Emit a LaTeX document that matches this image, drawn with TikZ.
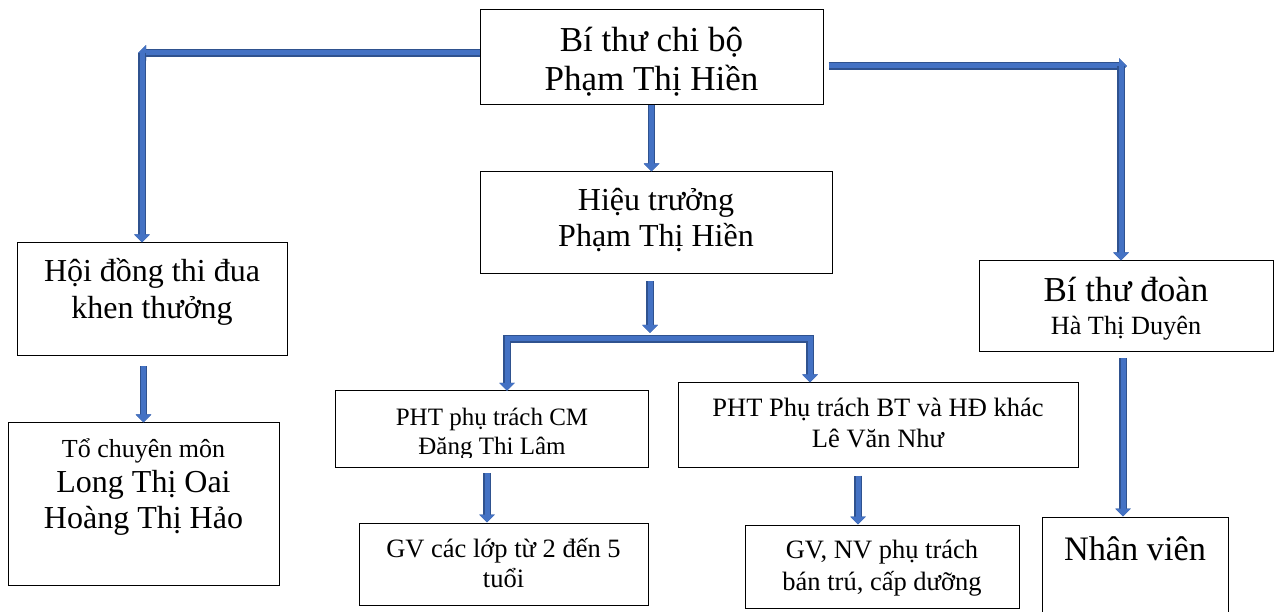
\documentclass[tikz,border=0pt]{standalone}
\usepackage{fontspec}
\setmainfont{Liberation Serif}
\usetikzlibrary{arrows.meta}
\definecolor{linkblue}{HTML}{4472C4}
\definecolor{linkedge}{HTML}{2F528F}
\newcommand{\sz}[2]{\fontsize{#1pt}{#2pt}\selectfont}
\newcommand{\first}{\rule{0pt}{1em}}
\newcommand{\boxtext}[4]{\parbox[c][#2pt][t]{#1pt}{\centering\vspace*{#3pt}#4}}
\begin{document}
\begin{tikzpicture}[x=1pt, y=-1pt, >={Triangle[width=15pt,length=8pt]},
    box/.style={draw, line width=1pt, inner sep=0pt},
    link/.style={draw=linkblue, line width=5pt, preaction={draw=linkedge, line width=7.5pt}}]
    \useasboundingbox (0,0) rectangle (1278,612);
    \clip (0,0) rectangle (1278,612);

    \node[box] (bitu) at (651.5,57.5) {\boxtext{343}{95}{7}{\sz{35}{39}\first Bí thư chi bộ\\Phạm Thị Hiền}};
    \node[box] (hieutr) at (656,223) {\boxtext{352}{102}{7}{\sz{32}{36}\first Hiệu trưởng\\Phạm Thị Hiền}};
    \node[box] (hoidong) at (152,299.5) {\boxtext{270}{113}{7}{\sz{32}{37}\first Hội đồng thi đua\\khen thưởng}};
    \node[box] (tocm) at (143.5,504) {\boxtext{271}{162}{8}{{\sz{26}{35}\first Tổ chuyên môn\par}\sz{32}{35.5}Long Thị Oai\\Hoàng Thị Hảo}};
    \begin{scope}
        \clip (336,391) rectangle (648,457);
        \node[inner sep=0pt] (phtcm) at (492,429) {\boxtext{312}{76}{10}{\sz{25}{29}\first PHT phụ trách CM\\Đăng Thi Lâm}};
    \end{scope}
    \draw[line width=1pt] (phtcm.north west) rectangle (phtcm.south east);
    \node[box] (phtbt) at (878,425) {\boxtext{400}{84}{7.5}{\sz{26.5}{31}\first PHT Phụ trách BT và HĐ khác\\Lê Văn Như}};
    \node[box] (gvlop) at (503.5,564) {\boxtext{289}{82}{7.5}{\sz{26.5}{30}\first GV các lớp từ 2 đến 5\\tuổi}};
    \node[box] (gvnv) at (882,566.5) {\boxtext{274}{83}{6.5}{\sz{26.5}{32}\first GV, NV phụ trách\\bán trú, cấp dưỡng}};
    \node[box] (bitd) at (1126,306.5) {\boxtext{294}{91}{6}{{\sz{35}{39}\first Bí thư đoàn\par}\sz{26.3}{33}Hà Thị Duyên}};
    \node[box] (nhanvien) at (1135,583.5) {\boxtext{186}{133}{8.7}{\sz{34.3}{39}\first Nhân viên}};

    \coordinate (lk) at (142,53);
    \coordinate (rk) at (1121,66);
    \coordinate (bar) at (650,339);
    \coordinate (barL) at (507,339);
    \coordinate (barR) at (810,339);

    \draw[link,->] (bitu.west |- lk) -- ([xshift=-4pt]lk);
    \draw[link,->] (lk) -- (lk |- hoidong.north);
    \draw[link,->, shorten <=5pt] (bitu.east |- rk) -- ([xshift=6pt]rk);
    \draw[link,->] (rk) -- (rk |- bitd.north);
    \draw[link,->] (bitu.south) -- (bitu.south |- hieutr.north);
    \draw[link,->, shorten <=7pt, shorten >=6pt] (hieutr.south -| bar) -- (bar);
    \draw[link,<->] (barL |- phtcm.north) -- (barL) -- (barR) -- (barR |- phtbt.north);
    \draw[link,->, shorten <=10pt] (tocm.north |- hoidong.south) -- (tocm.north);
    \draw[link,->, shorten <=6pt] ([xshift=-5pt]phtcm.south) -- ([xshift=-5pt]phtcm.south |- gvlop.north);
    \draw[link,->, shorten <=8pt] ([xshift=-20pt]phtbt.south) -- ([xshift=-20pt]phtbt.south |- gvnv.north);
    \draw[link,->, shorten <=6pt] ([xshift=-3pt]bitd.south) -- ([xshift=-3pt]bitd.south |- nhanvien.north);
\end{tikzpicture}
\end{document}
